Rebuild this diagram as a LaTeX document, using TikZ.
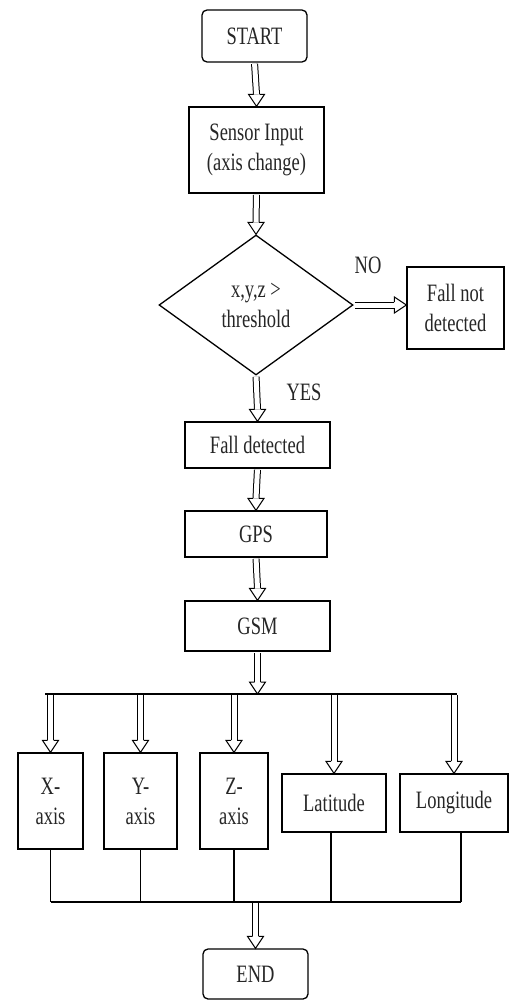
\documentclass[tikz,border=0pt]{standalone}
\usepackage{fontspec}
\setmainfont{Liberation Serif}[FakeStretch=0.74]
\usetikzlibrary{shapes.geometric,calc}
\newcommand\hdown[2]{%
  \draw[shaft] (#1) -- ($(#2)+(0,-12)$);
  \draw[head] ($(#2)+(-3,-12)$) -- ++(-5,0) -- (#2) -- ($(#2)+(8,-12)$) -- ++(-5,0);}
\newcommand\hright[2]{%
  \draw[shaft] (#1) -- ($(#2)+(-12,0)$);
  \draw[head] ($(#2)+(-12,-3)$) -- ++(0,-5) -- (#2) -- ($(#2)+(-12,8)$) -- ++(0,-5);}
\begin{document}
\begin{tikzpicture}[x=1pt,y=-1pt,
  font=\fontsize{25}{30}\selectfont,
  text=black!85,
  box/.style={draw, line width=1.3pt, inner sep=0pt, align=center},
  term/.style={box, rounded corners=5pt},
  shaft/.style={draw, line width=1pt, double=white, double distance=5pt, shorten <=1.2pt},
  head/.style={draw, line width=1pt, line join=miter},
  bus/.style={line width=2.4pt},
  link/.style={line width=1.2pt}]
\useasboundingbox (0,0) rectangle (509,1001);
% main column
\node[term, minimum width=105pt, minimum height=52pt] (start) at (254.5,36) {START};
\node[box, minimum width=135pt, minimum height=86pt] (sensor) at (256.5,150) {Sensor Input\\(axis change)};
\node[box, diamond, minimum width=194pt, minimum height=140pt, aspect=1.4] (dec) at (256,305) {x,y,z >\\threshold};
\node[box, minimum width=97pt, minimum height=82pt] (fnd) at (455.5,308) {Fall not\\detected};
\node[box, minimum width=145pt, minimum height=46pt] (falld) at (257.5,445) {Fall detected};
\node[box, minimum width=142pt, minimum height=46pt] (gps) at (256,534) {GPS};
\node[box, minimum width=145pt, minimum height=50pt] (gsm) at (257.5,626) {GSM};
% labels
\node (no) at (368,265) {NO};
\node (yes) at (304,392) {YES};
% output boxes
\node[box, minimum width=65pt, minimum height=96pt] (xb) at (50.5,801) {X-\\axis};
\node[box, minimum width=73pt, minimum height=96pt] (yb) at (140.5,801) {Y-\\axis};
\node[box, minimum width=68pt, minimum height=96pt] (zb) at (234,801) {Z-\\axis};
\node[box, minimum width=104pt, minimum height=58pt] (lat) at (334,803) {Latitude};
\node[box, minimum width=108pt, minimum height=58pt] (lon) at (454,803) {Longitude};
\node[term, minimum width=105pt, minimum height=50pt] (end) at (255.5,974) {END};
% arrows main column
\hdown{start.south}{sensor.north}
\hdown{sensor.south}{dec.north}
\coordinate (fndW) at (fnd.west |- dec.east);
\hright{dec.east}{fndW}
\hdown{dec.south}{falld.north}
\hdown{falld.south}{gps.north}
\hdown{gps.south}{gsm.north}
% top bus
\coordinate (busL) at (45,694);
\coordinate (busR) at (457,694);
\coordinate (busM) at (gsm.south |- busL);
\draw[bus] (busL) -- (busR);
\hdown{gsm.south}{busM}
\coordinate (tX) at (xb.north |- busL);
\coordinate (tY) at (yb.north |- busL);
\coordinate (tZ) at (zb.north |- busL);
\coordinate (tLa) at (lat.north |- busL);
\coordinate (tLo) at (lon.north |- busL);
\hdown{tX}{xb.north}
\hdown{tY}{yb.north}
\hdown{tZ}{zb.north}
\hdown{tLa}{lat.north}
\hdown{tLo}{lon.north}
% bottom bus
\coordinate (bb) at (0,902);
\coordinate (sLa) at ([xshift=-3pt]lat.south);
\coordinate (sLo) at ([xshift=7pt]lon.south);
\coordinate (bX) at (xb.south |- bb);
\coordinate (bY) at (yb.south |- bb);
\coordinate (bZ) at (zb.south |- bb);
\coordinate (bLa) at (sLa |- bb);
\coordinate (bLo) at (sLo |- bb);
\draw[link] (xb.south) -- (bX);
\draw[link] (yb.south) -- (bY);
\draw[link] (zb.south) -- (bZ);
\draw[link] (sLa) -- (bLa);
\draw[link] (sLo) -- (bLo);
\draw[link, line width=1.8pt] (bX) -- (bLo);
\coordinate (bE) at (end.north |- bb);
\hdown{bE}{end.north}
\end{tikzpicture}
\end{document}
